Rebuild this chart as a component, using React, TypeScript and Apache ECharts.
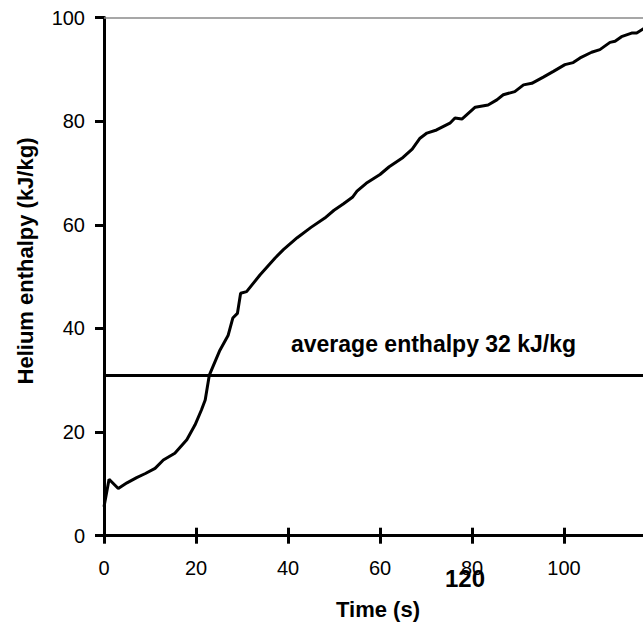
import React, { useEffect, useRef } from "react";
import * as echarts from "echarts";

const timeS = [
  0, 1.1, 3.1, 5, 7.1, 9, 11.1, 12.9, 15.4, 18, 19.8, 21.2, 22, 22.9, 25.2, 27, 28, 29, 29.7, 31,
  33.9, 37.2, 39, 42, 45, 48, 50, 52, 54, 55, 57, 60, 62, 65, 67, 68.7, 70.2, 72.3, 75.2, 76.3,
  77.8, 80.7, 83.5, 85.4, 86.8, 89.3, 91.2, 93, 95.5, 97.7, 100.2, 102, 103.5, 106, 107.8, 110,
  111.1, 112.5, 114.7, 115.8, 117.2, 118.5,
];
const enthalpy = [
  5.6, 10.9, 9.1, 10.2, 11.2, 12.0, 13.0, 14.6, 15.9, 18.5, 21.4, 24.3, 26.2, 31.0, 35.8, 38.7,
  42.0, 42.9, 46.8, 47.1, 50.3, 53.6, 55.2, 57.5, 59.5, 61.3, 62.8, 64.0, 65.3, 66.5, 68.0, 69.7,
  71.2, 73.0, 74.6, 76.7, 77.7, 78.3, 79.6, 80.6, 80.4, 82.7, 83.1, 84.1, 85.1, 85.7, 87.0, 87.3,
  88.5, 89.6, 90.9, 91.3, 92.2, 93.3, 93.8, 95.2, 95.4, 96.3, 97.0, 97.0, 97.8, 98.2,
];
const averageEnthalpy = 31;
const averageLabel = "average enthalpy 32 kJ/kg";
const xTitle = "Time (s)";
const yTitle = "Helium enthalpy (kJ/kg)";
const strayLabel = "120";

const FONT = "'Liberation Sans', Arial, sans-serif";

export default function App() {
  const ref = useRef<HTMLDivElement>(null);
  useEffect(() => {
    if (!ref.current) return;
    const chart = echarts.init(ref.current, null, { renderer: "svg" });
    const data = timeS.map((t, i) => [t, enthalpy[i]]);
    const xCommon = {
      type: "value" as const,
      min: 0,
      max: 120,
      interval: 20,
      splitLine: { show: false },
    };
    chart.setOption({
      animation: false,
      backgroundColor: "#fff",
      textStyle: { fontFamily: FONT },
      grid: { left: 104, top: 17.5, width: 552, height: 518.2, containLabel: false },
      xAxis: [
        {
          ...xCommon,
          position: "bottom",
          axisLine: { show: true, lineStyle: { color: "#000", width: 3 } },
          axisTick: { show: true, inside: false, length: 8, lineStyle: { color: "#000", width: 3 } },
          axisLabel: {
            color: "#000",
            fontSize: 20,
            fontFamily: FONT,
            margin: 22,
            formatter: (v: number) => (v >= 120 ? "" : String(v)),
          },
        },
        {
          ...xCommon,
          position: "bottom",
          axisLine: { show: false },
          axisTick: { show: true, inside: true, length: 8, lineStyle: { color: "#000", width: 3 } },
          axisLabel: { show: false },
        },
        {
          ...xCommon,
          position: "top",
          axisLine: { show: true, lineStyle: { color: "#8a8a8a", width: 1.5 } },
          axisTick: { show: false },
          axisLabel: { show: false },
        },
      ],
      yAxis: {
        type: "value",
        min: 0,
        max: 100,
        interval: 20,
        splitLine: { show: false },
        axisLine: { show: true, lineStyle: { color: "#000", width: 3 } },
        axisTick: { show: true, inside: false, length: 9, lineStyle: { color: "#000", width: 3 } },
        axisLabel: { color: "#000", fontSize: 20, fontFamily: FONT, margin: 19 },
      },
      series: [
        {
          type: "line",
          xAxisIndex: 0,
          data,
          symbol: "none",
          lineStyle: { color: "#000", width: 3 },
          markLine: {
            silent: true,
            symbol: "none",
            label: { show: false },
            lineStyle: { color: "#000", width: 3, type: "solid" },
            data: [{ yAxis: averageEnthalpy }],
          },
        },
      ],
      graphic: [
        {
          type: "text",
          left: 291,
          top: 332,
          style: { text: averageLabel, font: `bold 23px ${FONT}`, fill: "#000" },
        },
        {
          type: "text",
          x: 378,
          y: 609,
          style: { text: xTitle, font: `bold 22px ${FONT}`, fill: "#000", align: "center", verticalAlign: "middle" },
        },
        {
          type: "text",
          x: 465,
          y: 578,
          style: { text: strayLabel, font: `bold 24px ${FONT}`, fill: "#000", align: "center", verticalAlign: "middle" },
        },
        {
          type: "text",
          x: 25,
          y: 261,
          rotation: Math.PI / 2,
          style: { text: yTitle, font: `bold 22px ${FONT}`, fill: "#000", align: "center", verticalAlign: "middle" },
        },
      ],
    });
    return () => chart.dispose();
  }, []);
  return (
    <div style={{ position: "absolute", left: 0, top: 0, width: 643, height: 626, overflow: "hidden" }}>
      <div ref={ref} style={{ position: "absolute", left: 0, top: 0, width: 680, height: 626 }} />
    </div>
  );
}
